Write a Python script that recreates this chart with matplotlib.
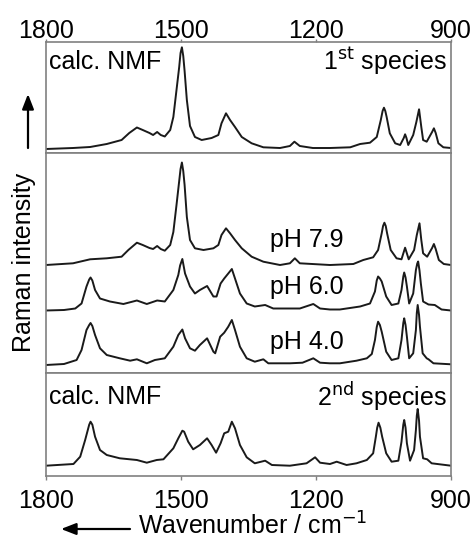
import matplotlib
matplotlib.use("Agg")
import matplotlib.pyplot as plt
import numpy as np

plt.rcParams['font.family'] = ['Liberation Sans', 'DejaVu Sans']

# ---------------- data (wavenumber / cm-1, intensity a.u.) ----------------
wn_s1 = [1800, 1740, 1702, 1665, 1632, 1615, 1598, 1585, 1570, 1562, 1553, 1545, 1536,
         1524, 1517, 1510, 1504, 1501, 1498, 1495, 1492, 1487, 1480, 1469, 1454, 1432,
         1417, 1410, 1400, 1391, 1380, 1365, 1343, 1317, 1280, 1258, 1248, 1236, 1207,
         1169, 1124, 1102, 1080, 1065, 1056, 1052, 1049, 1046, 1043, 1036, 1024, 1013,
         1005, 1002, 999, 995, 984, 977, 971, 966, 962, 954, 942, 938, 934, 928, 917, 900]
int_s1 = [0, 1, 2, 5, 9, 16, 21.5, 19, 16, 14, 17, 14, 12.5,
          19, 32, 59, 82, 96, 101.7, 93, 78, 49, 23, 12, 9, 11,
          14, 25.7, 35.7, 29, 22, 12, 5.7, 1.7, 1, 3, 7.3, 3, 1,
          1, 1.7, 5, 6.3, 12, 29, 38, 41.3, 38, 32, 15.7, 5.7, 4,
          11, 14.7, 11, 4, 14, 27, 39.7, 22, 9, 7.3, 17, 20.7, 16, 5.7, 1.7, 1]

wn_ph79 = [1800, 1740, 1702, 1665, 1632, 1617, 1598, 1585, 1570, 1562, 1553, 1545, 1536,
           1524, 1517, 1510, 1504, 1501, 1498, 1495, 1492, 1487, 1480, 1469, 1450, 1428,
           1417, 1410, 1400, 1391, 1380, 1365, 1343, 1317, 1280, 1258, 1247, 1236, 1169,
           1117, 1095, 1073, 1062, 1054, 1051, 1048, 1045, 1042, 1034, 1021, 1010, 1005,
           1002, 999, 994, 982, 976, 970, 966, 962, 953, 942, 938, 934, 927, 916, 900]
int_ph79 = [0, 1.7, 5.7, 6.7, 8.3, 15, 22.3, 20, 17, 16, 19, 16, 14.3,
            20, 33, 60, 84, 96, 102.5, 94, 80, 48, 25, 16.7, 15, 16.7,
            20, 30, 36.7, 31.7, 25, 16.7, 8.3, 3.3, 0, 1.7, 6.7, 1.7, 0,
            1, 5, 7.7, 15, 31.7, 39, 42.3, 39, 31.7, 15, 6.7, 5.7, 13,
            17.3, 13, 5.7, 15, 30, 41.7, 25, 11.7, 8.3, 17, 21, 16, 5, 1, 0]

wn_ph60 = [1800, 1760, 1735, 1721, 1710, 1704, 1701, 1697, 1691, 1680, 1658, 1628, 1598,
           1576, 1553, 1536, 1517, 1506, 1502, 1497, 1491, 1480, 1469, 1458, 1442, 1428,
           1421, 1412, 1404, 1395, 1387, 1380, 1369, 1354, 1336, 1313, 1295, 1258, 1236,
           1206, 1191, 1169, 1147, 1102, 1080, 1069, 1065, 1062, 1058, 1054, 1044, 1032,
           1017, 1010, 1006, 1004, 1001, 998, 993, 984, 978, 975, 973, 970, 967, 962, 950,
           936, 921, 900]
int_ph60 = [0, 0.5, 2, 7, 24, 31, 33, 30, 20.5, 12, 9, 6.5, 10,
            6.5, 10, 9, 20.5, 35.5, 45, 51.5, 37, 24, 17, 20.5, 24.5, 14,
            14, 27, 32, 37, 41.5, 32, 17, 7, 4, 5.5, 2, 2, 2,
            6.5, 2, 1, 1, 4, 7, 19, 30, 34, 32, 29, 14, 5.5,
            7, 20.5, 34, 38, 33, 24, 7, 17, 40.5, 47, 49, 40, 27, 9, 6,
            5.5, 1, 0]

wn_ph40 = [1800, 1760, 1732, 1721, 1710, 1704, 1701, 1697, 1691, 1680, 1665, 1636, 1613,
           1598, 1576, 1558, 1536, 1517, 1506, 1497, 1491, 1480, 1469, 1458, 1442, 1428,
           1424, 1413, 1404, 1395, 1387, 1380, 1369, 1354, 1336, 1317, 1306, 1258, 1230,
           1206, 1191, 1169, 1147, 1110, 1087, 1076, 1069, 1065, 1062, 1058, 1054, 1044,
           1032, 1017, 1010, 1006, 1004, 1001, 998, 993, 984, 978, 976, 974, 971, 969, 963,
           954, 950, 939, 900]
int_ph40 = [0, 1, 5, 15, 35, 40, 42, 39, 30, 16.7, 10, 6.7, 4.3,
            5.7, 1.7, 5, 6.7, 18.3, 30, 35.5, 26.7, 16.7, 14.3, 20, 26.7, 13.3,
            11.7, 28.3, 32.3, 38.3, 45, 35, 18.3, 6.7, 3.3, 5.7, 1.7, 1.7, 2.3,
            6.7, 2.3, 1.7, 1.7, 4.3, 6.7, 11, 25, 38, 43.3, 40, 33.3, 13.3,
            5, 6.7, 25, 42, 46.7, 40, 28.3, 6.7, 11.7, 35, 52, 60, 50, 38.3, 11.7,
            6.7, 5.7, 1.7, 0.7]

wn_s2 = [1800, 1739, 1724, 1713, 1704, 1701, 1697, 1691, 1680, 1665, 1636, 1598, 1576,
         1554, 1539, 1517, 1506, 1497, 1493, 1484, 1473, 1458, 1442, 1432, 1422, 1412,
         1404, 1395, 1387, 1380, 1369, 1354, 1336, 1313, 1298, 1258, 1221, 1202, 1191,
         1169, 1154, 1132, 1110, 1087, 1073, 1067, 1064, 1061, 1057, 1053, 1044, 1032,
         1017, 1010, 1006, 1004, 1001, 998, 991, 982, 978, 976, 974, 971, 969, 962, 953,
         943, 900]
int_s2 = [0, 1.7, 9, 25.7, 41, 44, 41, 29, 15.7, 10.7, 7.4, 5.7, 3,
          5.7, 6.4, 17.4, 27.4, 35, 34, 24, 16.4, 20.7, 27.4, 20.7, 13, 22.4,
          32.4, 34, 44, 37.4, 20.7, 8.4, 2.4, 5, 0.7, 0, 2.4, 8.4, 3,
          1.7, 4, 0.7, 2.4, 5.7, 12.4, 29, 38, 43, 38, 29, 12.4, 4,
          5, 24, 41, 45.7, 38, 22.4, 5, 15.7, 35.7, 50, 56.7, 45, 29, 7.4, 6.4,
          2.4, 0]

xticks = [1800, 1500, 1200, 900]
ph_labels = ["pH 7.9", "pH 6.0", "pH 4.0"]

# ---------------- layout ----------------
W, H = 475, 539
fig = plt.figure(figsize=(W / 100, H / 100), dpi=100)

def fr(x0, ytop, ybot):
    return [x0[0] / W, 1 - ybot / H, (x0[1] - x0[0]) / W, (ybot - ytop) / H]

xl = (46, 451)
ax1 = fig.add_axes(fr(xl, 41.7, 152.5))
ax2 = fig.add_axes(fr(xl, 152.5, 373.3))
ax3 = fig.add_axes(fr(xl, 373.3, 475.7))

FS = 18
LC = '#1a1a1a'
LW = 1.4
SP = '#808080'

for ax, h in [(ax1, 110.8), (ax2, 220.8), (ax3, 102.4)]:
    ax.set_xlim(1800, 900)
    ax.set_ylim(0, h)
    ax.set_yticks([])
    for s in ax.spines.values():
        s.set_color(SP)
        s.set_linewidth(1.2)
    ax.tick_params(axis='x', which='both', length=0, labelbottom=False, labeltop=False)
    ax.set_xticks(xticks)

ax1.plot(wn_s1, np.array(int_s1) + 3.5, color=LC, lw=LW)
ax2.plot(wn_ph79, np.array(int_ph79) + 108.3, color=LC, lw=LW)
ax2.plot(wn_ph60, np.array(int_ph60) + 62.8, color=LC, lw=LW)
ax2.plot(wn_ph40, np.array(int_ph40) + 8.3, color=LC, lw=LW)
ax3.plot(wn_s2, np.array(int_s2) + 10, color=LC, lw=LW)

ax1.xaxis.set_ticks_position('top')
ax1.tick_params(axis='x', top=True, length=2.5, width=1, color=SP, direction='out',
                labeltop=True, labelsize=FS, pad=-3.5)
ax3.tick_params(axis='x', bottom=True, length=3, width=1, color=SP, direction='out',
                labelbottom=True, labelsize=FS, pad=6.3)

# panel texts
ax1.text(0.008, 0.82, "calc. NMF", transform=ax1.transAxes, fontsize=FS, va='center', ha='left')
ax1.text(0.99, 0.82, r"1$^{\mathrm{st}}$ species", transform=ax1.transAxes, fontsize=FS,
         va='center', ha='right')
ax3.text(0.008, 0.77, "calc. NMF", transform=ax3.transAxes, fontsize=FS, va='center', ha='left')
ax3.text(0.99, 0.77, r"2$^{\mathrm{nd}}$ species", transform=ax3.transAxes, fontsize=FS,
         va='center', ha='right')
for lab, ypx in zip(ph_labels, [240, 287, 342]):
    fig.text(270 / W, 1 - ypx / H, lab, fontsize=FS, va='center', ha='left')

# axis labels with arrows
fig.text(253 / W, 1 - 534.2 / H, r"Wavenumber / cm$^{-1}$", fontsize=FS, va='baseline',
         ha='center')
fig.add_artist(matplotlib.patches.FancyArrowPatch(
    (130 / W, 1 - 529 / H), (61 / W, 1 - 529 / H), transform=fig.transFigure,
    arrowstyle='-|>,head_length=9,head_width=3.5', color='black', lw=1.6,
    shrinkA=0, shrinkB=0))

fig.text(24 / W, 1 - 262 / H, "Raman intensity", fontsize=FS, va='center', ha='center',
         rotation=90)
fig.add_artist(matplotlib.patches.FancyArrowPatch(
    (28 / W, 1 - 148 / H), (28 / W, 1 - 94 / H), transform=fig.transFigure,
    arrowstyle='-|>,head_length=9,head_width=3.5', color='black', lw=1.6,
    shrinkA=0, shrinkB=0))

fig.savefig("out.png", dpi=100)
